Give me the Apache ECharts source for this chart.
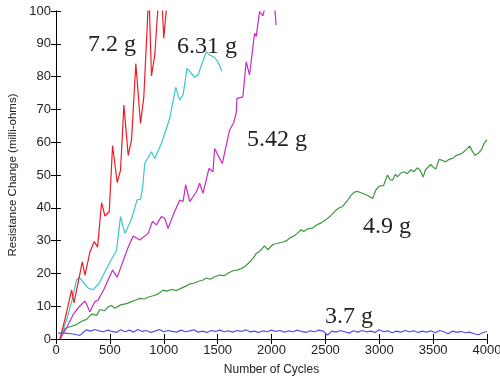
<!DOCTYPE html>
<html><head><meta charset="utf-8">
<script src="https://cdn.jsdelivr.net/npm/echarts@6/dist/echarts.min.js"></script>
<style>html,body{margin:0;padding:0;background:#fff}#c{width:500px;height:378px}</style>
</head><body><div id="c"></div>
<script>
const xTicks = [0,500,1000,1500,2000,2500,3000,3500,4000];
const yTicks = [0,10,20,30,40,50,60,70,80,90,100];
const seriesNames = ['7.2 g','6.31 g','5.42 g','4.9 g','3.7 g'];

const red72 = [[37,0],[90,7],[145,15],[167,11],[244,23.5],[269,19.5],[315,26.5],[355,29.7],[386,28],[423,41.6],[454,37.5],[494,38.8],[525,59],[568,47.7],[599,51.5],[630,71.3],[670,56],[701,60.7],[741,84],[784,65.7],[815,73.8],[862,106],[886,80.2],[917,86.6],[952,104],[968,101],[980,106],[1000,91.7],[1045,108]];

const cyan631 = [[37,0],[100,6],[150,12],[191,18],[216,18.8],[260,17],[300,15.5],[345,15],[400,17],[454,20.5],[510,24],[562,27],[599,37.3],[639,32.2],[700,36.5],[753,42.4],[784,42.6],[803,46],[824,53.6],[886,57.1],[917,55],[978,59.6],[1056,67.3],[1111,76.7],[1148,72.9],[1179,74.4],[1216,82.5],[1287,79.8],[1318,80.5],[1395,87.6],[1426,86.6],[1472,85.9],[1503,84.5],[1540,81.6]];

const mag542 = [[37,0],[100,3.5],[160,7.5],[220,10],[269,11.6],[315,8.3],[361,11.4],[392,11.9],[450,15.5],[490,18.5],[525,21.0],[568,18.8],[620,23.5],[670,28],[716,31.4],[778,30.2],[855,32.2],[895,35.8],[932,34.8],[978,37.3],[1009,36.8],[1040,33.7],[1090,38],[1148,42.4],[1179,41.9],[1204,47],[1241,41.9],[1303,44.9],[1333,47.5],[1364,44.4],[1420,52],[1457,51],[1472,58.1],[1543,53.5],[1611,63.7],[1650,66],[1673,69],[1679,73.3],[1734,73.8],[1765,84.5],[1796,80.5],[1843,93.2],[1858,92.2],[1889,99.8],[1920,98.5],[1960,104],[1990,101],[2020,105],[2043,95.7]];

const green49 = [[37,0],[83,3.2],[136,3.8],[191,4.4],[238,5.4],[284,6.0],[330,7.6],[377,7.2],[407,9.0],[450,8.6],[484,9.8],[515,10.2],[546,9.4],[600,10.4],[654,10.8],[700,11.4],[740,11.9],[778,12.4],[820,12.2],[860,12.8],[901,13.2],[940,13.6],[994,14.9],[1030,14.6],[1071,15.1],[1117,14.8],[1164,15.5],[1210,16.2],[1241,16.8],[1280,17.0],[1320,17.6],[1360,17.9],[1395,18.6],[1430,18.2],[1470,18.9],[1518,19.5],[1560,19.3],[1600,20.1],[1642,20.8],[1680,21.0],[1720,21.5],[1750,22.0],[1796,23.4],[1830,24.6],[1858,26.1],[1900,27.0],[1935,28.4],[1966,27.2],[2012,28.8],[2060,29.2],[2100,29.5],[2136,29.9],[2170,30.8],[2197,31.2],[2240,32.2],[2275,33.3],[2300,32.8],[2336,33.6],[2383,33.8],[2414,34.7],[2460,35.4],[2506,36.4],[2550,37.6],[2599,39.3],[2630,40.0],[2660,40.4],[2700,42.0],[2738,43.8],[2770,44.8],[2799,45.0],[2830,44.6],[2861,44.2],[2900,43.6],[2938,42.8],[2970,45.5],[3000,46.6],[3040,46.8],[3077,50.0],[3100,48.6],[3123,48.4],[3150,50.2],[3169,49.4],[3200,50.6],[3231,51.0],[3260,50.4],[3293,51.6],[3320,51.0],[3354,52.2],[3380,51.4],[3407,49.4],[3430,51.6],[3447,52.2],[3478,53.2],[3500,52.4],[3525,51.8],[3556,54.8],[3590,54.4],[3617,54.0],[3640,54.6],[3663,54.9],[3690,55.2],[3710,55.9],[3740,56.2],[3772,56.7],[3810,57.8],[3840,58.8],[3865,57.2],[3889,56.0],[3920,56.6],[3950,57.8],[3972,59.6],[4000,60.8]];

const blue37 = [[20,1.8],[80,1.8],[145,1.6],[190,1.3],[222,1.1],[260,2.2],[284,2.8],[320,2.4],[360,2.9],[400,2.5],[440,2.2],[480,2.7],[520,2.3],[560,2.0],[600,2.8],[640,2.2],[680,2.7],[720,2.1],[760,2.9],[800,2.3],[840,2.6],[880,2.0],[920,2.4],[960,2.9],[1000,2.2],[1040,2.6],[1080,2.3],[1120,2.1],[1160,2.7],[1200,2.2],[1240,2.5],[1280,2.8],[1320,2.1],[1360,2.4],[1400,2.0],[1440,2.6],[1480,2.3],[1520,2.7],[1560,2.2],[1600,2.5],[1640,2.1],[1680,2.6],[1720,2.3],[1760,2.8],[1800,2.2],[1840,2.4],[1880,2.0],[1920,2.5],[1960,2.2],[2000,2.7],[2040,2.3],[2080,2.6],[2120,2.1],[2160,2.5],[2200,2.2],[2240,2.7],[2280,2.3],[2320,2.0],[2360,2.5],[2400,2.2],[2440,2.7],[2480,2.4],[2520,1.2],[2560,2.4],[2600,2.1],[2640,2.6],[2680,2.2],[2720,1.8],[2760,2.5],[2800,2.1],[2840,2.6],[2880,2.2],[2920,2.4],[2960,2.0],[3000,2.8],[3040,2.2],[3080,2.5],[3120,1.9],[3160,2.4],[3200,2.1],[3240,2.6],[3280,2.2],[3320,2.5],[3360,2.0],[3400,2.4],[3440,2.1],[3480,2.5],[3520,1.9],[3560,2.6],[3600,2.2],[3640,1.6],[3680,2.4],[3720,2.0],[3760,2.3],[3800,1.9],[3840,2.1],[3880,1.6],[3920,1.3],[3960,1.9],[4000,2.3]];

const colors = ['#ee1c24','#3cc6c6','#c42ac4','#3d973d','#4f4ff0'];
const datasets = [red72, cyan631, mag542, green49, blue37];

const chart = echarts.init(document.getElementById('c'));
const tickFont = {fontFamily:'Liberation Sans, Arial, sans-serif', fontSize:13, color:'#222'};
const lineAxis = {lineStyle:{color:'#000', width:1}};
const plain = v => String(v);
chart.setOption({
  animation:false,
  grid:{left:56, right:13, top:11, bottom:39, containLabel:false, outerBoundsMode:'none'},
  xAxis:[
    {type:'value', min:xTicks[0], max:xTicks[xTicks.length-1], interval:500,
     name:'Number of Cycles', nameLocation:'middle', nameGap:25,
     nameTextStyle:{fontFamily:'Liberation Sans, Arial, sans-serif', fontSize:12, color:'#222'},
     axisLine:lineAxis, axisTick:{inside:true, length:5, lineStyle:{color:'#000'}},
     axisLabel:Object.assign({margin:5, formatter:plain}, tickFont), splitLine:{show:false}},
    {type:'value', position:'top', min:0, max:4000, interval:500,
     axisLine:lineAxis, axisTick:{inside:true, length:5, lineStyle:{color:'#000'}},
     axisLabel:{show:false}, splitLine:{show:false}}
  ],
  yAxis:[
    {type:'value', min:yTicks[0], max:yTicks[yTicks.length-1], interval:10,
     name:'Resistance Change (milli-ohms)', nameLocation:'middle', nameGap:34,
     nameTextStyle:{fontFamily:'Liberation Sans, Arial, sans-serif', fontSize:11.5, color:'#222'},
     axisLine:Object.assign({show:true}, lineAxis), axisTick:{show:true, inside:true, length:5, lineStyle:{color:'#000'}},
     axisLabel:Object.assign({margin:5, formatter:plain}, tickFont), splitLine:{show:false}},
    {type:'value', position:'right', min:0, max:100, interval:10,
     axisLine:Object.assign({show:true}, lineAxis), axisTick:{show:true, inside:true, length:5, lineStyle:{color:'#000'}},
     axisLabel:{show:false}, splitLine:{show:false}}
  ],
  series: datasets.map((d,i)=>({
    name:seriesNames[i], type:'line', data:d, showSymbol:false, symbol:'none',
    clip:true, lineStyle:{color:colors[i], width:1.2}, z:10-i
  })),
  graphic:[
    {type:'text', left:88, top:33, style:{text:seriesNames[0], font:'24px "Liberation Serif", "Times New Roman", serif', fill:'#222'}},
    {type:'text', left:177, top:35, style:{text:seriesNames[1], font:'24px "Liberation Serif", "Times New Roman", serif', fill:'#222'}},
    {type:'text', left:247, top:128, style:{text:seriesNames[2], font:'24px "Liberation Serif", "Times New Roman", serif', fill:'#222'}},
    {type:'text', left:363, top:215, style:{text:seriesNames[3], font:'24px "Liberation Serif", "Times New Roman", serif', fill:'#222'}},
    {type:'text', left:325, top:305, style:{text:seriesNames[4], font:'24px "Liberation Serif", "Times New Roman", serif', fill:'#222'}}
  ]
});
</script></body></html>
